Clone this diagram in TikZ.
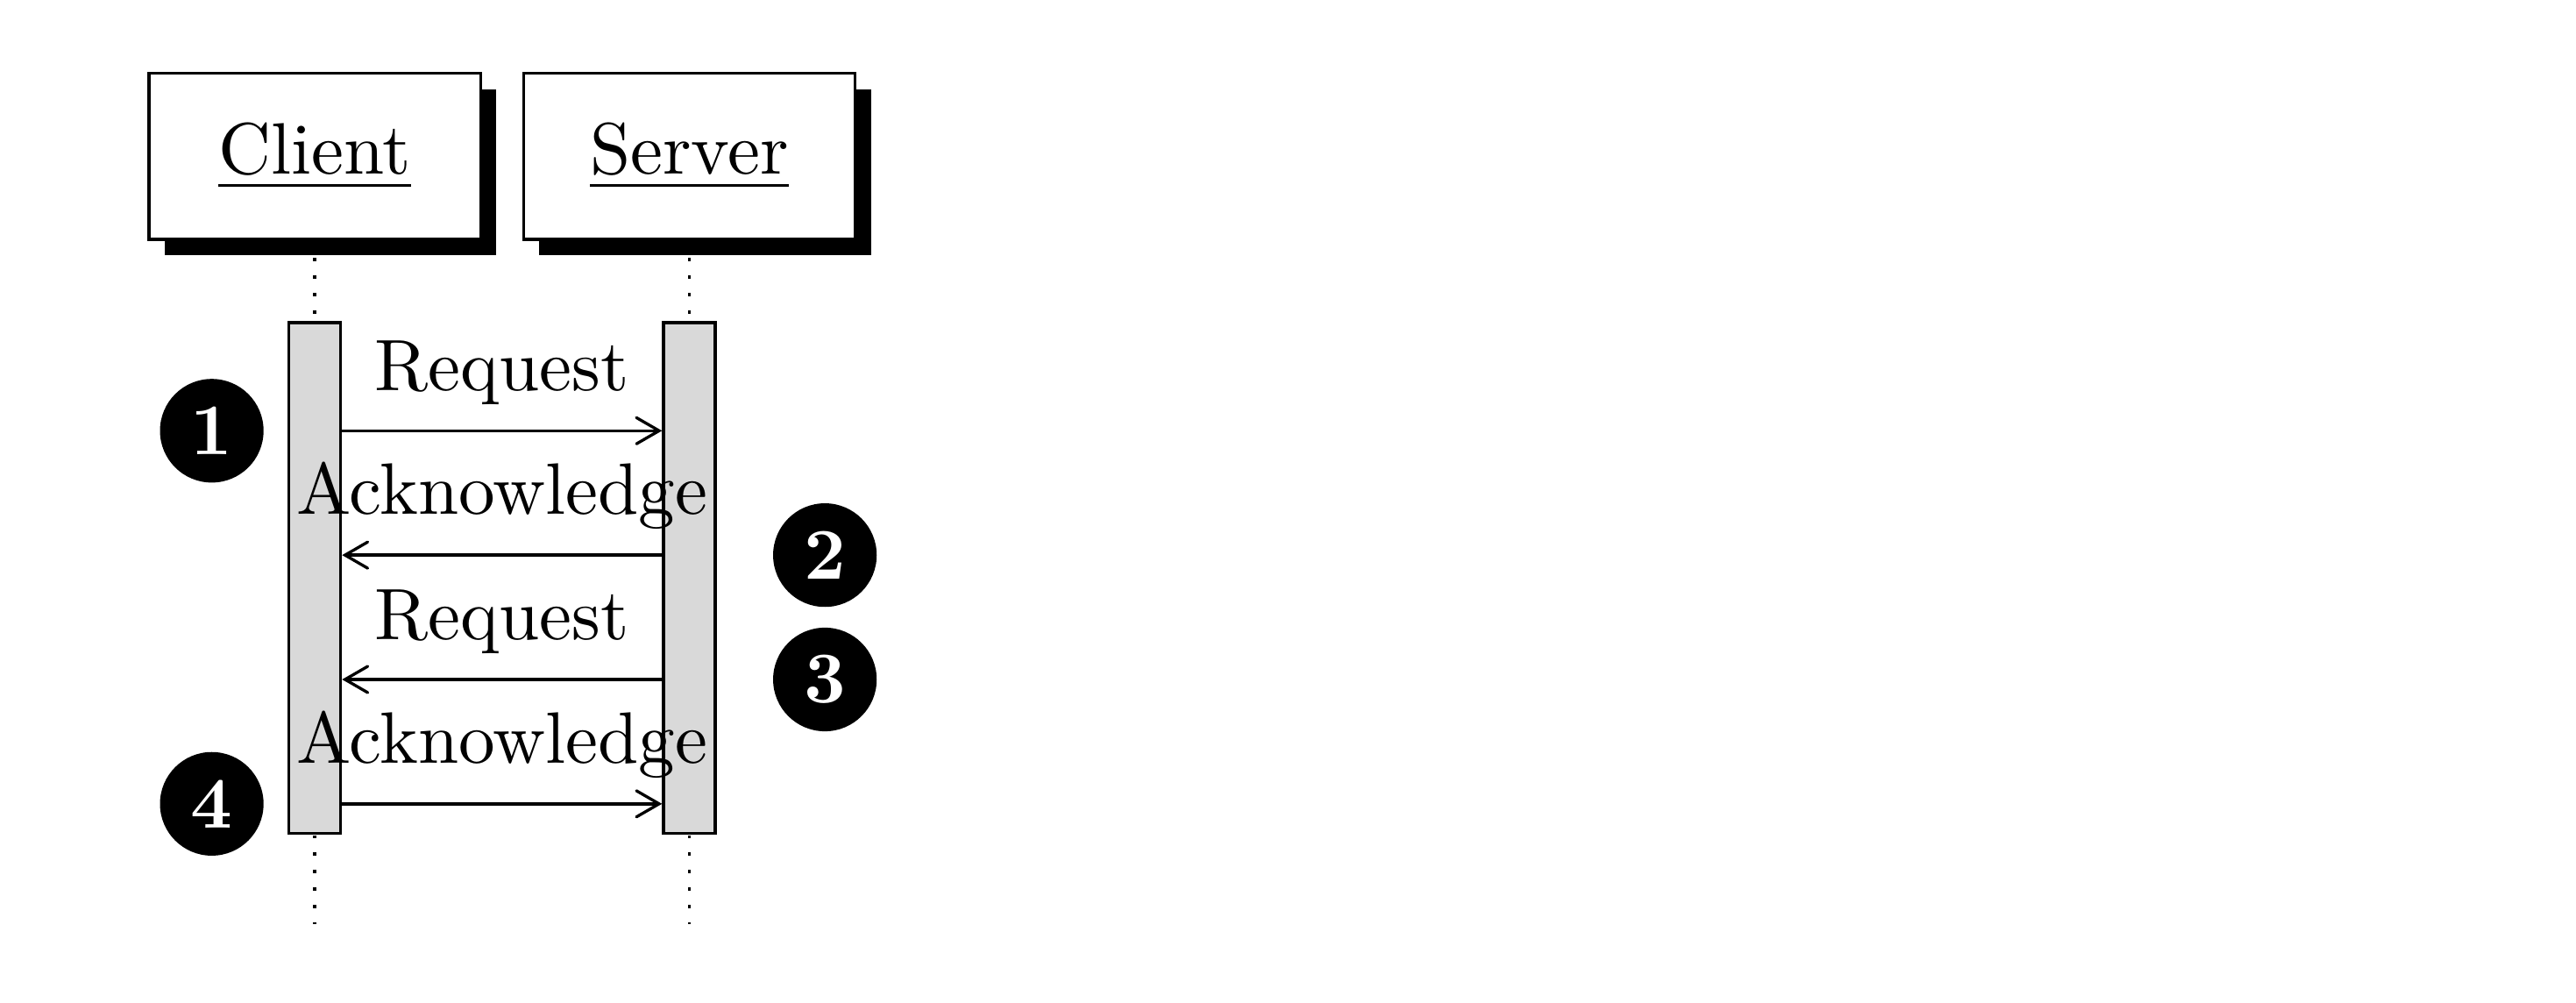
\documentclass[tikz,border=0pt]{standalone}
\usetikzlibrary{shadows,arrows}
\begin{document}
\begin{tikzpicture}[
    >=angle 60,
    inst/.style={rectangle,draw,fill=white,minimum width=1.6cm,minimum height=0.8cm,
        drop shadow={opacity=1,fill=black}},
    bar/.style={rectangle,draw,fill=gray!30,minimum width=0.25cm,minimum height=2.462cm,inner sep=0pt},
    numb/.style={circle,fill=black,text=white,inner sep=0pt,minimum size=0.5cm,font=\bfseries},
    life/.style={dotted}
]
    \useasboundingbox (0,0) rectangle (12.432,-4.835);

    % Istanze
    \node[inst] (client) at (1.519,-0.754) {\underline{Client}};
    \node[inst] (server) at (3.327,-0.754) {\underline{Server}};

    % Linee di vita
    \coordinate (clientend) at (1.519,-4.46);
    \coordinate (serverend) at (3.327,-4.46);
    \draw[life] (client) -- (clientend);
    \draw[life] (server) -- (serverend);

    % Barre di attivazione
    \node[bar] (clientbar) at (1.519,-2.788) {};
    \node[bar] (serverbar) at (3.327,-2.788) {};

    % Punti dei messaggi
    \foreach \i/\y in {1/-2.078,2/-2.678,3/-3.278,4/-3.878}{
        \coordinate (c\i) at (clientbar.east |- 0,\y);
        \coordinate (s\i) at (serverbar.west |- 0,\y);
    }

    % Messaggi
    \draw[->] (c1) -- node[above] {Request} (s1);
    \draw[->] (s2) -- node[above] {Acknowledge} (c2);
    \draw[->] (s3) -- node[above] {Request} (c3);
    \draw[->] (c4) -- node[above] {Acknowledge} (s4);

    % Numeri
    \node[numb] (n1) at (1.022,-2.078) {1};
    \node[numb] (n2) at (3.981,-2.678) {2};
    \node[numb] (n3) at (3.981,-3.278) {3};
    \node[numb] (n4) at (1.022,-3.878) {4};

\end{tikzpicture}
\end{document}
